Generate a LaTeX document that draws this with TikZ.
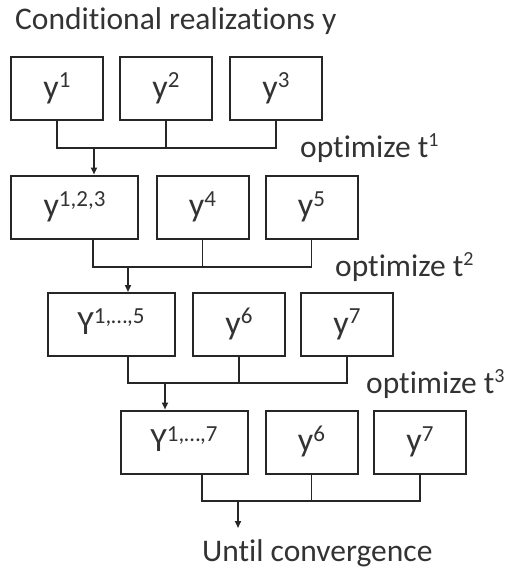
\documentclass[tikz,border=0pt]{standalone}
\usepackage{fontspec}
\setmainfont{Carlito}[Ligatures=NoCommon]
\usetikzlibrary{arrows.meta}
\definecolor{ink}{HTML}{333333}
\definecolor{wire}{HTML}{262626}
% raised, smaller index text
\newcommand{\sps}[1]{\raisebox{0.3em}{\fontsize{23}{23}\selectfont #1}}
\newcommand{\spt}[1]{\raisebox{0.33em}{\fontsize{20}{20}\selectfont #1}}
\begin{document}
\begin{tikzpicture}[x=1pt,y=-1pt,
  every node/.style={text=ink},
  cell/.style={draw=wire,line width=2pt,inner sep=0pt,minimum height=63pt,
    font=\fontsize{34}{38}\selectfont,text height=24pt,text depth=5pt},
  narrow/.style={cell,minimum width=92pt},
  wide/.style={cell,minimum width=127pt},
  link/.style={draw=wire,line width=1.8pt},
  flow/.style={link,-{Triangle[length=7pt,width=6pt]}},
  caption/.style={anchor=base west,inner sep=0pt,font=\fontsize{31.5}{36}\selectfont}]
\useasboundingbox (0,0) rectangle (507,570);

% heading
\node[caption] (title) at (15,29) {Conditional realizations y};

% row 1
\node[narrow] (a1) at (57,88.5) {y\sps{1}};
\node[narrow] (b1) at (166,88.5) {y\sps{2}};
\node[narrow] (c1) at (276,88.5) {y\sps{3}};
% row 2
\node[wide]   (a2) at (74.5,207) {y\sps{1,2,3}};
\node[narrow] (b2) at (202.5,207) {y\sps{4}};
\node[narrow] (c2) at (311.5,207) {y\sps{5}};
% row 3
\node[wide]   (a3) at (111,324.5) {Y\sps{1,…,5}};
\node[narrow] (b3) at (239,324.5) {y\sps{6}};
\node[narrow] (c3) at (347,324.5) {y\sps{7}};
% row 4
\node[wide]   (a4) at (184,442) {Y\sps{1,…,7}};
\node[narrow] (b4) at (311.5,442) {y\sps{6}};
\node[narrow] (c4) at (420,442) {y\sps{7}};

% step labels
\node[caption] (t1) at (300,157) {optimize t\spt{1}};
\node[caption] (t2) at (335,276) {optimize t\spt{2}};
\node[caption] (t3) at (366,393) {optimize t\spt{3}};
\node[caption] (end) at (202,561) {Until convergence};

% merge points on each collecting line
\coordinate (m1) at (94,148);
\coordinate (m2) at (128,267);
\coordinate (m3) at (165,383);
\coordinate (m4) at (238,501);
\coordinate (s2) at (93,0);
\coordinate (s3) at (128,0);
\coordinate (s4) at (202,0);
\coordinate (goal) at (238,528);

% collectors
\draw[link] (a1.south) -- (a1.south |- m1) -- (c1.south |- m1) -- (c1.south);
\draw[link] (b1.south) -- (b1.south |- m1);
\draw[flow] (m1) -- (m1 |- a2.north);

\draw[link] (a2.south -| s2) -- (s2 |- m2) -- (c2.south |- m2) -- (c2.south);
\draw[link] (b2.south) -- (b2.south |- m2);
\draw[flow] (m2) -- (m2 |- a3.north);

\draw[link] (a3.south -| s3) -- (s3 |- m3) -- (c3.south |- m3) -- (c3.south);
\draw[link] (b3.south) -- (b3.south |- m3);
\draw[flow] (m3) -- (m3 |- a4.north);

\draw[link] (a4.south -| s4) -- (s4 |- m4) -- (c4.south |- m4) -- (c4.south);
\draw[link] (b4.south) -- (b4.south |- m4);
\draw[flow] (m4) -- (goal);
\end{tikzpicture}
\end{document}
